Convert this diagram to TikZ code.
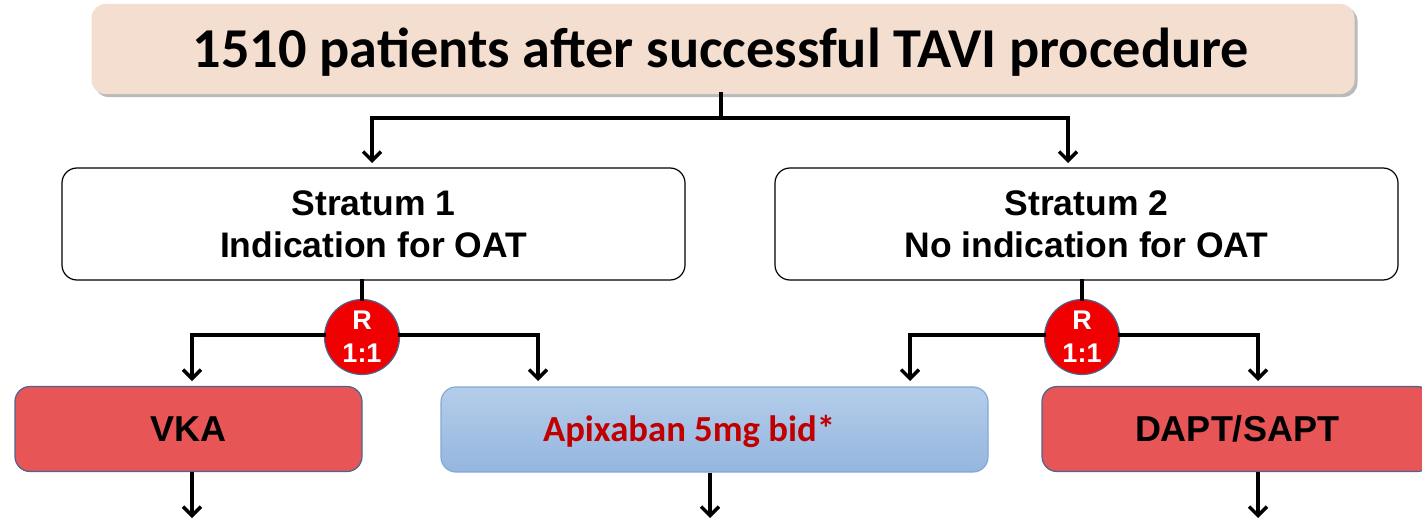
\documentclass[tikz,border=0pt]{standalone}
\usepackage{fontspec}
\setmainfont{Liberation Sans}
\newfontfamily\carlito{Carlito}
\usetikzlibrary{arrows.meta,shadows}
\definecolor{topfill}{HTML}{F3DED0}
\definecolor{redfill}{HTML}{E85556}
\definecolor{redline}{HTML}{4A6590}
\definecolor{bluetop}{HTML}{B4CDEA}
\definecolor{bluebot}{HTML}{95B6DF}
\definecolor{blueline}{HTML}{82A8D8}
\definecolor{apired}{HTML}{C00000}
\definecolor{circred}{HTML}{F00000}
\begin{document}
\begin{tikzpicture}[x=1pt,y=-1pt,
  conn/.style={line width=3.5pt,line cap=rect},
  arr/.style={line width=3.5pt,-{Straight Barb[length=9pt,width=18pt,line width=3.5pt]}},
  topbox/.style={draw=none,fill=topfill,rounded corners=14pt,minimum width=1263pt,minimum height=90pt,
     drop shadow={shadow xshift=3pt,shadow yshift=-3pt,opacity=0.45,fill=black!60}},
  stratbox/.style={draw=black,line width=1.2pt,fill=white,rounded corners=15pt,minimum width=623pt,minimum height=112pt,align=center,font=\bfseries\fontsize{35.5}{42}\selectfont},
  redbox/.style={draw=redline,line width=1.2pt,fill=redfill,rounded corners=15pt,minimum height=85pt,font=\bfseries\fontsize{36}{40}\selectfont},
  bluebox/.style={draw=blueline,line width=1.2pt,top color=bluetop,bottom color=bluebot,rounded corners=15pt,minimum height=85pt},
  rcirc/.style={circle,draw=redline,line width=1.2pt,fill=circred,minimum size=75pt,inner sep=0pt,align=center,text=white,font=\bfseries\fontsize{27}{33}\selectfont}
]
\useasboundingbox (0,0) rectangle (1422,519);
\node[topbox] (top) at (723,49) {};
\node[font=\carlito\bfseries\fontsize{56.3}{60}\selectfont] (toptext) at (721,52) {1510 patients after successful TAVI procedure};
\node[stratbox] (s1) at (373.5,224) {Stratum 1\\Indication for OAT};
\node[stratbox] (s2) at (1086.5,224) {Stratum 2\\No indication for OAT};
\node[rcirc] (r1) at (362,337) {R\\1:1};
\node[rcirc] (r2) at (1082,337) {R\\1:1};
\node[redbox,minimum width=347pt] (vka) at (188.5,429) {VKA};
\node[bluebox,minimum width=547pt] (apx) at (714.5,429.5) {};
\node[font=\carlito\bfseries\fontsize{36.7}{40}\selectfont,text=apired] (apxtext) at (689,431) {Apixaban 5mg bid*};
\node[redbox,minimum width=390pt] (dapt) at (1237,429) {DAPT/SAPT};
% top splits
\coordinate (tj) at (721,118);
\coordinate (tl) at (372,118);
\coordinate (tr) at (1068,118);
\draw[conn] (top.south -| tj) -- (tj);
\draw[conn] (tl) -- (tr);
\draw[arr] (tl) -- (372,163);
\draw[arr] (tr) -- (1068,163);
% stratum 1
\draw[conn] (s1.south -| r1) -- (r1.north);
\coordinate (l1) at (192,335);
\coordinate (l2) at (538,335);
\draw[conn] (l1) -- (r1.west |- l1);
\draw[conn] (r1.east |- l2) -- (l2);
\draw[arr] (l1) -- (192,381);
\draw[arr] (l2) -- (538,381);
% stratum 2
\draw[conn] (s2.south -| r2) -- (r2.north);
\coordinate (m1) at (910,335);
\coordinate (m2) at (1258,335);
\draw[conn] (m1) -- (r2.west |- m1);
\draw[conn] (r2.east |- m2) -- (m2);
\draw[arr] (m1) -- (910,381);
\draw[arr] (m2) -- (1258,381);
% bottom arrows
\draw[arr] (vka.south -| 192,0) -- (192,518);
\draw[arr] (apx.south -| 710,0) -- (710,518);
\draw[arr] (dapt.south -| 1258,0) -- (1258,518);
\end{tikzpicture}
\end{document}
